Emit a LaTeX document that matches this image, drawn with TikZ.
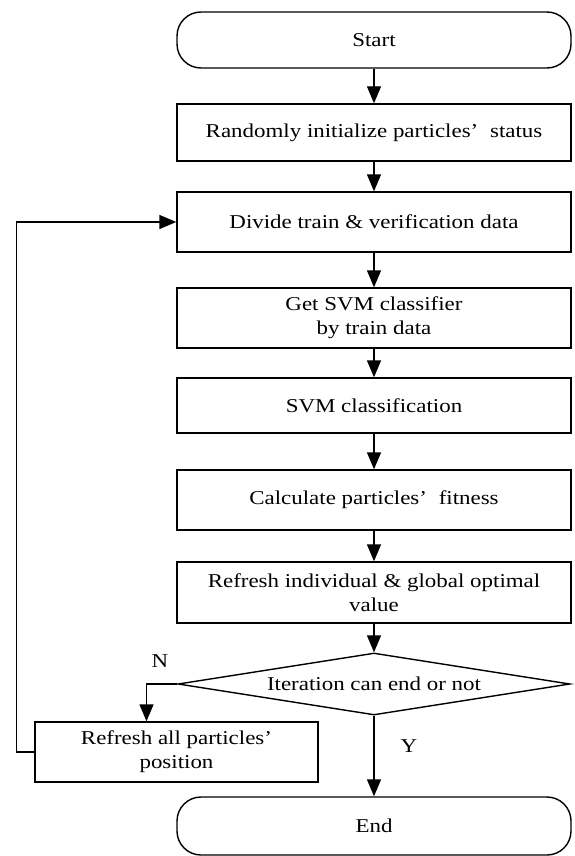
\documentclass[tikz,border=0pt]{standalone}
\usepackage{fontspec}
\setmainfont[FakeStretch=1.17]{Liberation Serif}
\usetikzlibrary{shapes.geometric,arrows.meta}
\begin{document}
\begin{tikzpicture}[x=1pt,y=-1pt,
  every node/.style={font=\fontsize{19.6}{24}\selectfont},
  box/.style={draw,line width=1.4pt,minimum width=394pt,inner sep=0pt,align=center},
  term/.style={box,rounded corners=24pt},
  arr/.style={line width=1.4pt,-{Triangle[width=14pt,length=17pt]}},
  ln/.style={line width=1.4pt}]
\useasboundingbox (0,0) rectangle (574,856);
\node[term,minimum height=56pt] (start) at (374,40) {Start};
\node[box,minimum height=57pt] (b2) at (374,132.5) {Randomly initialize particles’\hspace{0.6em}status};
\node[box,minimum height=60pt] (b3) at (374,222) {Divide train \& verification data};
\node[box,minimum height=60pt] (b4) at (374,318) {Get SVM classifier\\by train data};
\node[box,minimum height=55pt] (b5) at (374,405.5) {SVM classification};
\node[box,minimum height=60pt] (b6) at (374,500) {Calculate particles’\hspace{0.6em}fitness};
\node[box,minimum height=61pt] (b7) at (374,592.5) {Refresh individual \& global optimal\\value};
\node[draw,line width=1.4pt,diamond,aspect=6.3,inner sep=0pt,minimum width=392pt,minimum height=62pt] (dia) at (374,684) {Iteration can end or not};
\node[box,minimum width=283pt,minimum height=60pt] (ref) at (176.5,752) {Refresh all particles’\\position};
\node[term,minimum height=58pt] (end) at (374,826) {End};
\node (n) at (160,661) {N};
\node (y) at (409,746) {Y};
\draw[arr] (start) -- (b2);
\draw[arr] (b2) -- (b3);
\draw[arr] (b3) -- (b4);
\draw[arr] (b4) -- (b5);
\draw[arr] (b5) -- (b6);
\draw[arr] (b6) -- (b7);
\draw[arr] (b7) -- (dia);
\draw[arr] (dia.south) -- (end.north);
\draw[arr] (dia.west) -| ([xshift=-30pt]ref.north);
\draw[arr] (ref.west) -- ++(-18,0) |- (b3.west);
\end{tikzpicture}
\end{document}
